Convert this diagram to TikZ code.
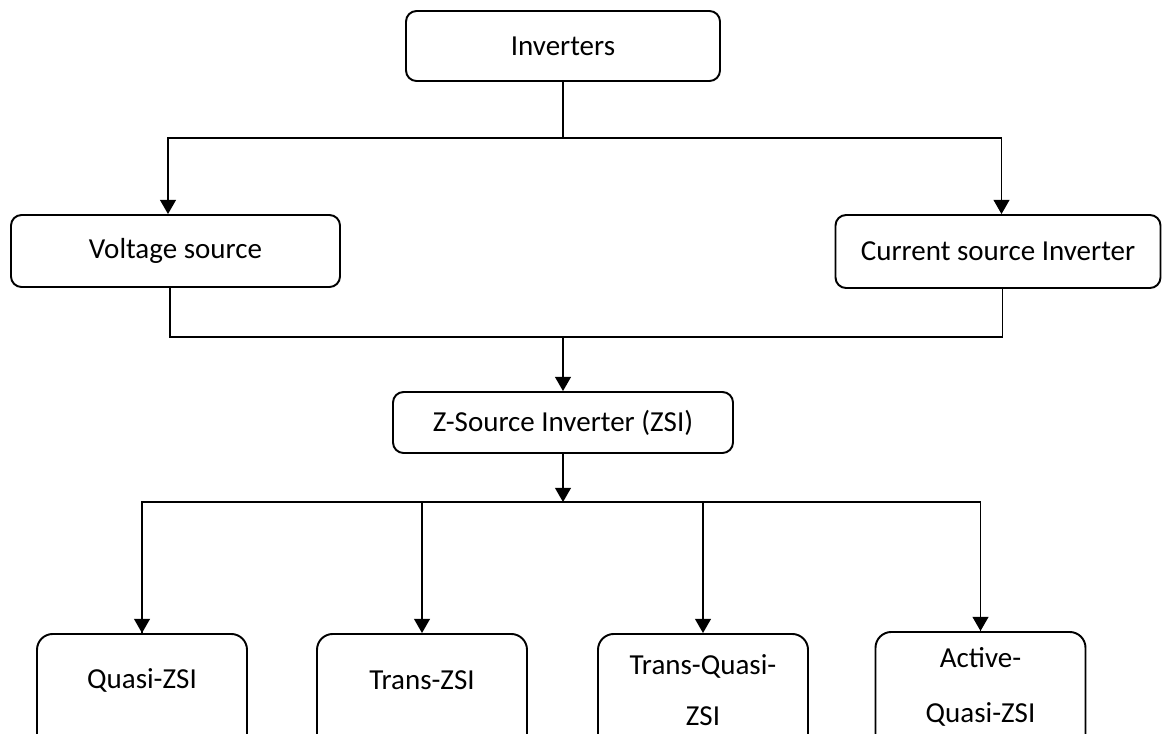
\documentclass[tikz,border=0pt]{standalone}
\usepackage{fontspec}
\setmainfont{Carlito}
\usetikzlibrary{arrows.meta}

\begin{document}
\begin{tikzpicture}[
  box/.style={draw, line width=1.1pt, rounded corners=6pt, inner sep=0pt},
  leaf/.style={box, rounded corners=9pt, anchor=north, minimum width=4.2cm, minimum height=2.4cm},
  line/.style={line width=0.7pt},
  arr/.style={line, -{Triangle[width=9pt,length=8pt]}},
  font=\fontsize{16.5}{20}\selectfont]
\useasboundingbox (0,0) rectangle (23.24,-14.66);
\node[box, minimum width=6.28cm, minimum height=1.4cm] (inv) at (11.26,-0.92) {Inverters};
\node[box, minimum width=6.58cm, minimum height=1.44cm] (vs) at (3.51,-5.02) {Voltage source};
\node[box, minimum width=6.5cm, minimum height=1.46cm] (cs) at (19.96,-5.03) {Current source Inverter};
\node[box, minimum width=6.8cm, minimum height=1.22cm] (zsi) at (11.26,-8.45) {Z-Source Inverter (ZSI)};
\node[leaf] (qzsi) at (2.84,-12.66) {};
\node[leaf] (tzsi) at (8.44,-12.66) {};
\node[leaf] (tqzsi) at (14.06,-12.66) {};
\node[leaf] (aqzsi) at (19.61,-12.62) {};
\node (qlbl) at ([yshift=-0.94cm]qzsi.north) {Quasi-ZSI};
\node (tlbl) at ([yshift=-0.94cm]tzsi.north) {Trans-ZSI};
\node[align=center, font=\fontsize{16.5}{29}\selectfont] (tqlbl) at ([yshift=-1.14cm]tqzsi.north) {Trans-Quasi-\\ZSI};
\node[align=center, font=\fontsize{16.5}{31}\selectfont] (aqlbl) at ([yshift=-1.12cm]aqzsi.north) {Active-\\Quasi-ZSI};
\coordinate (split1) at (11.26,-2.76);
\coordinate (join) at (11.26,-6.74);
\coordinate (split2) at (11.26,-10.04);
\draw[line] (inv.south) -- (split1);
\draw[arr] (split1) -| ([xshift=-0.15cm]vs.north);
\draw[arr] (split1) -| ([xshift=0.07cm]cs.north);
\draw[line] ([xshift=-0.11cm]vs.south) |- (join) -| ([xshift=0.09cm]cs.south);
\draw[arr] (join) -- (zsi.north);
\draw[arr] (zsi.south) -- (split2);
\draw[line] (split2) -| (qzsi.north);
\draw[line] (split2) -| (aqzsi.north);
\foreach \n in {qzsi,tzsi,tqzsi,aqzsi}
  \draw[arr] (split2 -| \n.north) -- (\n.north);
\end{tikzpicture}
\end{document}
